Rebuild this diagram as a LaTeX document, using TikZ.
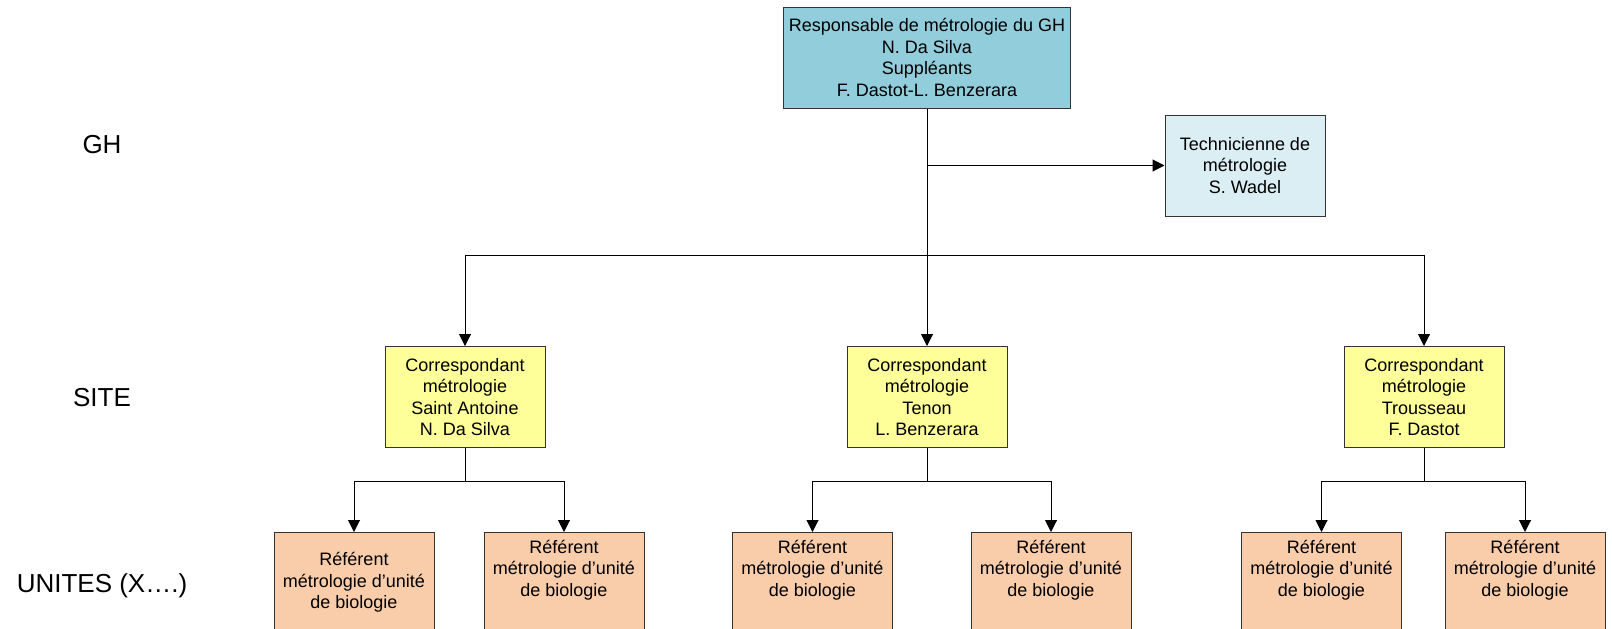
\documentclass[tikz,border=0pt]{standalone}
\usepackage{fontspec}
\setmainfont{Liberation Sans}
\usetikzlibrary{arrows.meta}
\definecolor{bleuGH}{RGB}{146,205,220}
\definecolor{bleutech}{RGB}{218,238,243}
\definecolor{jaunesite}{RGB}{255,255,153}
\definecolor{peche}{RGB}{250,205,170}

\begin{document}
\begin{tikzpicture}[x=0.5pt,y=-0.5pt,
>={Triangle[width=6pt,length=6pt]},
conf/.style={
	rectangle,minimum width=80pt,minimum height=50.5pt,inner sep=1pt,
	draw=black!80,line width=0.5pt,align=center,
	font=\fontsize{9}{10.8}\selectfont},
resp/.style={conf,fill=bleuGH,minimum width=143.5pt},
tech/.style={conf,fill=bleutech},
corr/.style={conf,fill=jaunesite},
refer/.style={conf,fill=peche,anchor=north,minimum height=50pt},
niveau/.style={font=\fontsize{13}{15.6}\selectfont},
lien/.style={line width=0.5pt}
]
\useasboundingbox (0,0) rectangle (1612,628);
% niveaux
\node[niveau] (nGH) at (102,145) {GH};
\node[niveau] (nsite) at (102,398) {SITE};
\node[niveau] (nunit) at (102,586) {UNITES (X….)};
% GH
\node[resp] (resp) at (927,57.5) {Responsable de métrologie du GH\\N. Da Silva\\Suppléants\\F. Dastot-L. Benzerara};
\node[tech] (tech) at (1245,165.5) {Technicienne de\\métrologie\\S. Wadel};
% sites
\node[corr] (sa) at (465,397) {Correspondant\\métrologie\\Saint Antoine\\N. Da Silva};
\node[corr] (te) at (927,397) {Correspondant\\métrologie\\Tenon\\L. Benzerara};
\node[corr] (tr) at (1424,397) {Correspondant\\métrologie\\Trousseau\\F. Dastot};
% unites
\node[refer] (u1) at (354,532) {Référent\\métrologie d’unité\\de biologie};
\node[refer] (u2) at (564,532) {Référent\\métrologie d’unité\\de biologie\\[3.5pt]~};
\node[refer] (u3) at (812.5,532) {Référent\\métrologie d’unité\\de biologie\\[3.5pt]~};
\node[refer] (u4) at (1051,532) {Référent\\métrologie d’unité\\de biologie\\[3.5pt]~};
\node[refer] (u5) at (1321.5,532) {Référent\\métrologie d’unité\\de biologie\\[3.5pt]~};
\node[refer] (u6) at (1525,532) {Référent\\métrologie d’unité\\de biologie\\[3.5pt]~};

\coordinate (bar) at (resp.south |- 0,255);
\draw[lien] (resp.south) -- (bar);
\draw[lien,->] (resp.south |- tech.west) -- (tech.west);
\draw[lien,->] (bar) -| (sa.north);
\draw[lien,->] (bar) -- (te.north);
\draw[lien,->] (bar) -| (tr.north);

\draw[lien,->] (sa.south) -- ++(0,33) coordinate (bsa) -| (u1.north);
\draw[lien,->] (bsa) -| (u2.north);
\draw[lien,->] (te.south) -- ++(0,33) coordinate (bte) -| (u3.north);
\draw[lien,->] (bte) -| (u4.north);
\draw[lien,->] (tr.south) -- ++(0,33) coordinate (btr) -| (u5.north);
\draw[lien,->] (btr) -| (u6.north);

\end{tikzpicture}
\end{document}
